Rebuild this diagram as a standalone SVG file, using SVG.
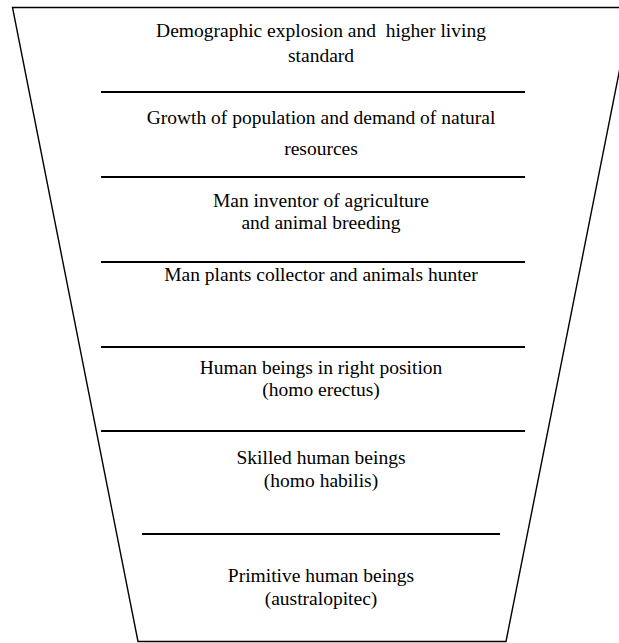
<svg xmlns="http://www.w3.org/2000/svg" width="619" height="643" viewBox="0 0 619 643">
<style>
.t{font-family:"Liberation Serif","Times New Roman",serif;font-size:19.5px;fill:#000;text-anchor:middle;white-space:pre}
.sep{stroke:#000;stroke-width:2}
</style>
<rect width="619" height="643" fill="#fff"/>
<g id="funnel">
<polygon points="12.5,7.5 632,7.5 506,641.5 138,641.5" fill="none" stroke="#000" stroke-width="1.4"/>
</g>
<g id="connectors">
<line class="sep" x1="101" y1="92" x2="525" y2="92"/>
<line class="sep" x1="101" y1="177" x2="525" y2="177"/>
<line class="sep" x1="101" y1="262" x2="525" y2="262"/>
<line class="sep" x1="101" y1="347" x2="525" y2="347"/>
<line class="sep" x1="101" y1="431" x2="525" y2="431"/>
<line class="sep" x1="142" y1="534" x2="500" y2="534"/>
</g>
<g id="n1"><text class="t" x="321" y="37" xml:space="preserve">Demographic explosion and  higher living</text><text class="t" x="321" y="62">standard</text></g>
<g id="n2"><text class="t" x="321" y="124">Growth of population and demand of natural</text><text class="t" x="321" y="155">resources</text></g>
<g id="n3"><text class="t" x="321" y="207">Man inventor of agriculture</text><text class="t" x="321" y="229">and animal breeding</text></g>
<g id="n4"><text class="t" x="321" y="281">Man plants collector and animals hunter</text></g>
<g id="n5"><text class="t" x="321" y="374">Human beings in right position</text><text class="t" x="321" y="396">(homo erectus)</text></g>
<g id="n6"><text class="t" x="321" y="464">Skilled human beings</text><text class="t" x="321" y="487">(homo habilis)</text></g>
<g id="n7"><text class="t" x="321" y="582">Primitive human beings</text><text class="t" x="321" y="605">(australopitec)</text></g>
</svg>
